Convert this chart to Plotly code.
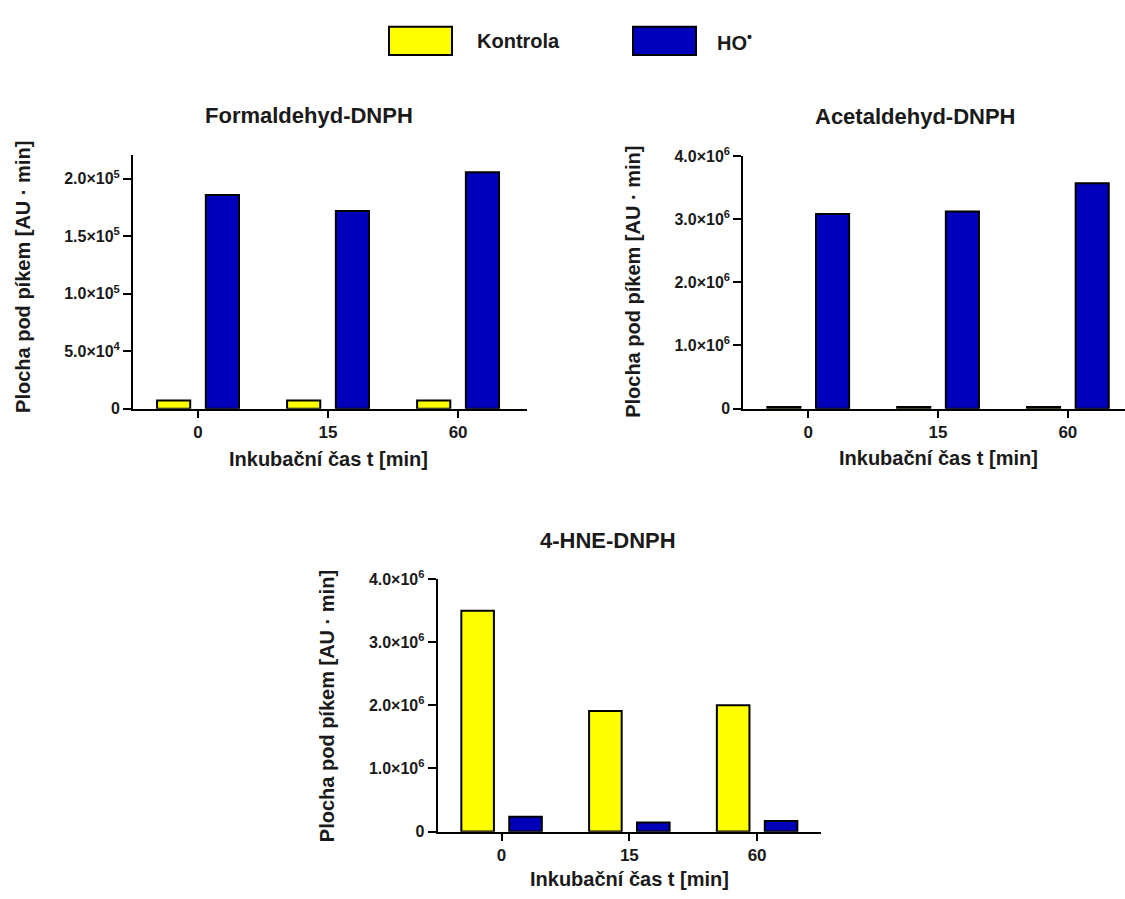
import plotly.graph_objects as go

W, H = 1125, 899

# ---- data ----
times = ["0", "15", "60"]
series_names = ["Kontrola", "HO<sup>•</sup>"]
form_kontrola = [7000, 7000, 7000]
form_ho = [186000, 172000, 205700]
acet_kontrola = [25000, 25000, 25000]
acet_ho = [3080000, 3120000, 3570000]
hne_kontrola = [3500000, 1910000, 2000000]
hne_ho = [237000, 144000, 170000]

titles = ["Formaldehyd-DNPH", "Acetaldehyd-DNPH", "4-HNE-DNPH"]
x_title = "Inkubační čas t [min]"
y_title = "Plocha pod píkem [AU · min]"
form_ticks = [0, 50000, 100000, 150000, 200000]
form_ticktext = ["0", "5.0×10<sup>4</sup>", "1.0×10<sup>5</sup>", "1.5×10<sup>5</sup>", "2.0×10<sup>5</sup>"]
mil_ticks = [0, 1e6, 2e6, 3e6, 4e6]
mil_ticktext = ["0", "1.0×10<sup>6</sup>", "2.0×10<sup>6</sup>", "3.0×10<sup>6</sup>", "4.0×10<sup>6</sup>"]

YELLOW = "#FFFF00"
BLUE = "#0000BB"
FONT = "Liberation Sans, Arial, sans-serif"
TXT = "#1a1a1a"


def px(x):
    return x / W


def py(y):
    return 1 - y / H


fig = go.Figure()
panels = [
    (form_kontrola, form_ho, "x", "y"),
    (acet_kontrola, acet_ho, "x2", "y2"),
    (hne_kontrola, hne_ho, "x3", "y3"),
]
for kon, ho, xa, ya in panels:
    fig.add_trace(go.Bar(x=times, y=kon, name=series_names[0], xaxis=xa, yaxis=ya,
                         marker=dict(color=YELLOW, line=dict(color="black", width=2)),
                         showlegend=False))
    fig.add_trace(go.Bar(x=times, y=ho, name=series_names[1], xaxis=xa, yaxis=ya,
                         marker=dict(color=BLUE, line=dict(color="black", width=2)),
                         showlegend=False))

common_x = dict(type="category", showline=True, linecolor="black", linewidth=2,
                ticks="outside", ticklen=7, tickwidth=2, tickcolor="black",
                showgrid=False, zeroline=False,
                tickfont=dict(family=FONT, size=17, color=TXT, weight="bold"))
common_y = dict(showline=True, linecolor="black", linewidth=2,
                ticks="outside", ticklen=8, tickwidth=2, tickcolor="black",
                showgrid=False, zeroline=False, tickmode="array",
                tickfont=dict(family=FONT, size=16, color=TXT, weight="bold"))

fig.update_layout(
    width=W, height=H,
    margin=dict(l=0, r=0, t=0, b=0),
    paper_bgcolor="white", plot_bgcolor="white",
    barmode="group", bargap=0.25, bargroupgap=0.32,
    showlegend=False,
    xaxis=dict(common_x, domain=[px(133), px(527)], range=[-0.5, 2.53], anchor="y"),
    yaxis=dict(common_y, domain=[py(406.7), py(147)], range=[0, 221000],
               tickvals=form_ticks, ticktext=form_ticktext, anchor="x"),
    xaxis2=dict(common_x, domain=[px(743.3), 1.0], range=[-0.5, 2.44], anchor="y2"),
    yaxis2=dict(common_y, domain=[py(406.7), py(148.3)], range=[0, 4e6],
                tickvals=mil_ticks, ticktext=mil_ticktext, anchor="x2"),
    xaxis3=dict(common_x, domain=[px(437.7), px(821)], range=[-0.5, 2.5], anchor="y3"),
    yaxis3=dict(common_y, domain=[py(839.3), py(581)], range=[0, 4e6],
                tickvals=mil_ticks, ticktext=mil_ticktext, anchor="x3"),
)

ann = []
# panel titles
for t, (cx, cy) in zip(titles, [(309, 107), (915, 108), (608, 542)]):
    ann.append(dict(text="<b>%s</b>" % t, x=px(cx), y=py(cy), xref="paper", yref="paper",
                    showarrow=False, xanchor="center", yanchor="middle",
                    font=dict(family=FONT, size=22, color=TXT)))
# x-axis titles
for cx, cy in [(328, 458), (938, 457), (629, 888)]:
    ann.append(dict(text="<b>%s</b>" % x_title, x=px(cx), y=py(cy), xref="paper", yref="paper",
                    showarrow=False, xanchor="center", yanchor="middle",
                    font=dict(family=FONT, size=20, color=TXT)))
# y-axis titles
for cx, cy in [(23, 272), (633, 277), (327, 711)]:
    ann.append(dict(text="<b>%s</b>" % y_title, x=px(cx), y=py(cy), xref="paper", yref="paper",
                    showarrow=False, xanchor="center", yanchor="middle", textangle=-90,
                    font=dict(family=FONT, size=20, color=TXT)))
# legend labels
ann.append(dict(text="<b>%s</b>" % series_names[0], x=px(475), y=py(31), xref="paper", yref="paper",
                showarrow=False, xanchor="left", yanchor="middle",
                font=dict(family=FONT, size=20, color=TXT)))
ann.append(dict(text="<b>%s</b>" % series_names[1], x=px(715), y=py(31), xref="paper", yref="paper",
                showarrow=False, xanchor="left", yanchor="middle",
                font=dict(family=FONT, size=20, color=TXT)))
fig.update_layout(annotations=ann)

# legend swatches
shapes = []
for x0, x1, col in [(389, 452, YELLOW), (633, 696, BLUE)]:
    shapes.append(dict(type="rect", xref="paper", yref="paper",
                       x0=px(x0), x1=px(x1), y0=py(45), y1=py(16),
                       fillcolor=col, line=dict(color="black", width=2)))
fig.update_layout(shapes=shapes)

# remove the browser's default body margin so the figure sits at the page origin
fig.write_html("out.html", config={"displayModeBar": False},
               post_script="document.body.style.margin='0px';")
